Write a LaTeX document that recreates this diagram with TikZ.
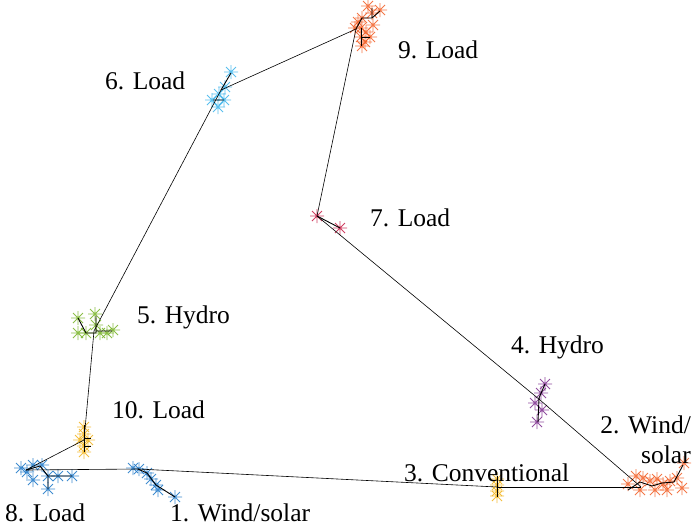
\documentclass[tikz,border=0pt]{standalone}
\usepackage{fontspec}
\setmainfont{Liberation Serif}
\definecolor{cor}{RGB}{242,96,40}
\definecolor{clb}{RGB}{60,180,235}
\definecolor{ccr}{RGB}{200,30,70}
\definecolor{cgr}{RGB}{120,180,40}
\definecolor{cpu}{RGB}{126,47,142}
\definecolor{cye}{RGB}{242,180,30}
\definecolor{cbl}{RGB}{30,120,200}
\tikzset{
  ast/.pic={\draw[pic actions] (-7,0)--(7,0) (0,-7)--(0,7) (-5,-5)--(5,5) (-5,5)--(5,-5);},
  edge/.style={draw=black,line width=0.6pt},
  sub/.style={draw=black,line width=0.9pt},
  lbl/.style={font=\fontsize{25.5}{30}\selectfont,anchor=base west,inner sep=0pt},
}
\newcommand{\starsat}[2]{\foreach \p in {#2}{\pic[draw=#1,line width=0.85pt,opacity=0.85] at \p {ast};}}
\begin{document}
\begin{tikzpicture}[x=1pt,y=-1pt]
\useasboundingbox (0,0) rectangle (693,531);
% hubs
\coordinate (n8) at (26,470);
\coordinate (n1) at (138,469);
\coordinate (n3) at (497,487);
\coordinate (n2) at (641,487);
\coordinate (n4) at (540,400);
\coordinate (n7) at (317,216);
\coordinate (n9) at (356,29);
\coordinate (n6) at (221,90);
\coordinate (n5) at (94,331);
\coordinate (n10) at (84,440);
% stars
\starsat{cor}{(368,6),(380,10),(372,13),(362,18),(355,28),(361,28),(366,32),(361,37),(370,37),(365,42),(362,46),(358,22),(373,25)}
\starsat{clb}{(231,72),(225,87),(219,94),(212,100),(224,100),(218,107)}
\starsat{ccr}{(317,216),(340,228)}
\starsat{cgr}{(78,318),(95,314),(96,325),(86,333),(78,333),(100,333),(107,333),(113,330)}
\starsat{cpu}{(545,384),(541,393),(535,403),(542,410),(537,422)}
\starsat{cye}{(84,427),(84,434),(80,440),(88,440),(84,446),(84,452)}
\starsat{cbl}{(21,468),(27,472),(33,465),(42,465),(33,480),(48,489),(48,476),(58,476),(72,476)}
\starsat{cbl}{(133,468),(139,469),(147,473),(151,479),(156,485),(158,490),(175,497)}
\starsat{cye}{(497,479),(497,485),(497,491),(497,496)}
\starsat{cor}{(628,484),(636,476),(643,478),(650,481),(657,479),(663,484),(670,481),(677,478),(684,463),(640,490),(655,490),(667,490),(682,488)}
% sub branches
\draw[sub] (n9) -- (362,18) -- (372,18) -- (372,8) (372,18) -- (380,11);
\draw[sub] (361,28) -- (361,46) (361,37) -- (370,37);
\draw[sub] (n6) -- (231,73) (213,100) -- (224,100);
\draw[sub] (n7) -- (340,228);
\draw[sub] (78,318) -- (86,333) -- (96,333) -- (96,316) (96,331) -- (112,331);
\draw[sub] (545,384) -- (539,398) -- (538,422);
\draw[sub] (84,425) -- (84,452) (84,438) -- (91,438) (84,446) -- (91,446);
\draw[sub] (n8) -- (40,466) -- (48,476) -- (72,476) (48,476) -- (48,489);
\draw[sub] (n1) -- (147,473) -- (156,485) -- (175,497);
\draw[sub] (497,476) -- (497,497);
\draw[sub] (628,490) -- (640,482) -- (652,486) -- (662,483) -- (674,482) -- (683,465);
% main connectors
\draw[edge] (n8) -- (n1);
\draw[edge] (n1) -- (n3);
\draw[edge] (n3) -- (n2);
\draw[edge] (n2) -- (n4);
\draw[edge] (n4) -- (n7);
\draw[edge] (n7) -- (n9);
\draw[edge] (n9) -- (n6);
\draw[edge] (n6) -- (n5);
\draw[edge] (n5) -- (n10);
\draw[edge] (n10) -- (n8);
% labels
\node[lbl] (l9) at (398,58) {9. Load};
\node[lbl] (l6) at (105,89) {6. Load};
\node[lbl] (l7) at (370,226) {7. Load};
\node[lbl] (l5) at (137,323) {5. Hydro};
\node[lbl] (l4) at (511,353) {4. Hydro};
\node[lbl,anchor=base east] (l2) at (691,433) {2. Wind/};
\node[lbl,anchor=base east] (l2b) at (691,463) {solar};
\node[lbl] (l10) at (112,418) {10. Load};
\node[lbl] (l3) at (404,481) {3. Conventional};
\node[lbl] (l8) at (5,521) {8. Load};
\node[lbl] (l1) at (170,521) {1. Wind/solar};
\end{tikzpicture}
\end{document}
